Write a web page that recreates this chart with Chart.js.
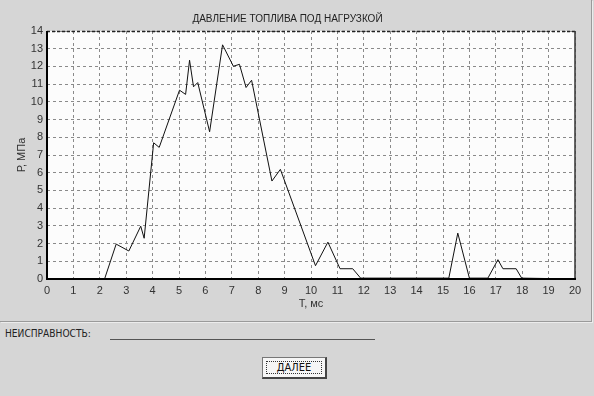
<!DOCTYPE html>
<html><head><meta charset="utf-8">
<script src="https://cdn.jsdelivr.net/npm/chart.js@4/dist/chart.umd.min.js"></script>
<style>
html,body{margin:0;padding:0;background:#d6d6d6;width:594px;height:396px;overflow:hidden;}
#panel{position:absolute;left:0;top:0;width:591px;height:321px;border-right:1px solid #9a9a9a;border-bottom:1px solid #9a9a9a;box-shadow:1px 1px 0 #ececec;}
canvas{position:absolute;left:0;top:0;}
#lbl{position:absolute;left:5px;top:327px;font:11px "DejaVu Sans Condensed","Liberation Sans",sans-serif;color:#222;transform:scaleX(0.92);transform-origin:0 0;}
#uline{position:absolute;left:110px;top:339px;width:265px;height:0;border-top:1px solid #555;}
#btn{position:absolute;left:262px;top:357px;width:62px;height:19px;background:#f6f6f6;border:1px solid #777;border-right:2px solid #444;border-bottom:2px solid #444;}
#btn div{position:absolute;left:3px;top:3px;right:3px;bottom:3px;border:1px dotted #333;font:11px "DejaVu Sans Condensed","Liberation Sans",sans-serif;color:#111;text-align:center;line-height:11px;}
</style></head>
<body>
<div id="panel"></div>
<canvas id="c" width="594" height="322"></canvas>
<div id="lbl">НЕИСПРАВНОСТЬ:</div>
<div id="uline"></div>
<div id="btn"><div>ДАЛЕЕ</div></div>
<script>
const chartTitle = "ДАВЛЕНИЕ ТОПЛИВА ПОД НАГРУЗКОЙ";
const xTitle = "Т, мс";
const yTitle = "Р, МПа";
const timeMs = [0, 2.18, 2.62, 3.1, 3.55, 3.68, 4.04, 4.25, 5.02, 5.25, 5.4, 5.55, 5.71, 6.16, 6.65, 7.06, 7.29, 7.54, 7.75, 8.52, 8.84, 10.17, 10.64, 11.1, 11.58, 11.88, 15.22, 15.56, 16.0, 16.7, 17.08, 17.27, 17.77, 17.98, 20];
const pressure = [0, 0, 1.97, 1.58, 2.98, 2.3, 7.69, 7.43, 10.66, 10.42, 12.35, 10.85, 11.09, 8.31, 13.22, 12.01, 12.12, 10.81, 11.22, 5.53, 6.19, 0.75, 2.08, 0.58, 0.58, 0.05, 0.05, 2.59, 0.05, 0.05, 1.09, 0.58, 0.58, 0.05, 0];
const xMin = 0, xMax = 20, yMin = 0, yMax = 14;

const pts = timeMs.map((t, i) => ({x: t, y: pressure[i]}));
const font = {family: '"Liberation Sans", Arial, sans-serif', size: 11, weight: 'normal'};
const titleFont = {family: '"Liberation Sans", Arial, sans-serif', size: 10, weight: 'normal'};

const frame = {
  id: 'frame',
  beforeDraw(chart) {
    const {ctx, chartArea: a} = chart;
    ctx.save(); ctx.fillStyle = '#fcfcfc';
    ctx.fillRect(a.left, a.top, a.right - a.left, a.bottom - a.top);
    ctx.restore();
  },
  afterDraw(chart) {
    const {ctx, chartArea: a} = chart;
    ctx.save();
    ctx.strokeStyle = '#222'; ctx.lineWidth = 1.5; ctx.setLineDash([3, 2]);
    ctx.beginPath(); ctx.moveTo(a.left, a.top + 0.5); ctx.lineTo(a.right, a.top + 0.5); ctx.stroke();
    ctx.setLineDash([]);
    ctx.strokeStyle = '#333'; ctx.lineWidth = 1.5;
    ctx.beginPath(); ctx.moveTo(a.right, a.top); ctx.lineTo(a.right, a.bottom); ctx.stroke();
    ctx.strokeStyle = '#000'; ctx.lineWidth = 2;
    ctx.beginPath(); ctx.moveTo(a.left, a.top); ctx.lineTo(a.left, a.bottom); ctx.lineTo(a.right + 1, a.bottom); ctx.stroke();
    ctx.restore();
  }
};

new Chart(document.getElementById('c'), {
  type: 'line',
  data: {datasets: [{data: pts, borderColor: '#111', borderWidth: 1, pointRadius: 0, tension: 0, fill: false}]},
  options: {
    responsive: false, animation: false, devicePixelRatio: 1,
    layout: {padding: {left: 0, right: 19, top: 0, bottom: 0}},
    plugins: {
      legend: {display: false}, tooltip: {enabled: false},
      title: {display: true, text: chartTitle, color: '#222', font: titleFont, padding: {top: 13, bottom: 6}}
    },
    scales: {
      x: {
        type: 'linear', min: xMin, max: xMax,
        ticks: {stepSize: 1, color: '#333', font: font, padding: 5, maxRotation: 0},
        grid: {color: '#8a8a8a', lineWidth: 1, drawTicks: false},
        border: {display: false, dash: [3, 3]},
        title: {display: true, text: xTitle, color: '#333', font: font, padding: {top: 0, bottom: 11}},
        afterFit(s) { s.height = 43; }
      },
      y: {
        min: yMin, max: yMax,
        ticks: {stepSize: 1, color: '#333', font: font, padding: 4},
        grid: {color: '#8a8a8a', lineWidth: 1, drawTicks: false},
        border: {display: false, dash: [3, 3]},
        title: {display: true, text: yTitle, color: '#333', font: font, padding: {top: 15, bottom: 0}},
        afterFit(s) { s.width = 47; }
      }
    }
  },
  plugins: [frame]
});
</script>
</body></html>
